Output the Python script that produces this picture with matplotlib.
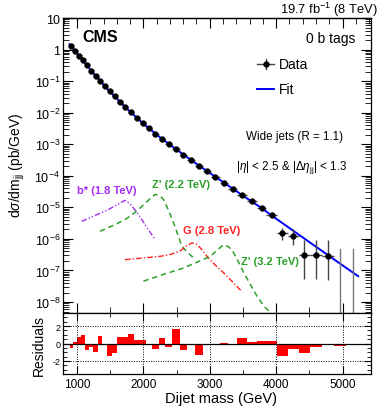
import numpy as np
import matplotlib
matplotlib.use("Agg")
import matplotlib.pyplot as plt
from matplotlib.ticker import MultipleLocator, LogLocator, NullFormatter

plt.rcParams['font.family'] = ['Liberation Sans', 'DejaVu Sans']
plt.rcParams['mathtext.fontset'] = 'custom'
plt.rcParams['mathtext.rm'] = 'Liberation Sans'
plt.rcParams['mathtext.it'] = 'Liberation Sans:italic'
plt.rcParams['mathtext.bf'] = 'Liberation Sans:bold'

# ---------------- data ----------------
bin_edges = [890, 944, 1000, 1058, 1118, 1181, 1246, 1313, 1383, 1455, 1530, 1607,
             1687, 1770, 1856, 1945, 2037, 2132, 2231, 2332, 2438, 2546, 2659, 2775,
             2895, 3019, 3147, 3279, 3416, 3558, 3704, 3854, 4010, 4171, 4337, 4509,
             4686, 4869, 5058, 5253]

# measured cross sections (pb/GeV), bins with events
data_xs = [1.26, 0.90, 0.64, 0.452, 0.313, 0.215, 0.148, 0.103, 0.0705, 0.0474,
           0.0326, 0.0223, 0.0150, 0.0102, 0.00692, 0.00465, 0.00319, 0.00217,
           0.00148, 0.00102, 7.15e-4, 4.65e-4, 3.16e-4, 2.05e-4, 1.42e-4, 9.33e-5,
           6.07e-5, 3.88e-5, 2.55e-5, 1.56e-5, 9.8e-6, 5.8e-6,
           1.5e-6, 1.2e-6, 3.0e-7, 3.0e-7, 2.9e-7]
data_err_lo = [0.003, 0.002, 0.002, 0.0015, 0.001, 0.0008, 0.0006, 0.0005, 0.0004, 0.0003,
               0.0002, 0.00015, 0.00012, 9e-5, 7e-5, 5e-5, 4e-5, 3e-5,
               2.5e-5, 2e-5, 1.6e-5, 1.2e-5, 9e-6, 7e-6, 5.5e-6, 4e-6,
               3e-6, 2.2e-6, 1.6e-6, 1.2e-6, 9e-7, 7e-7,
               5.5e-7, 5.4e-7, 2.48e-7, 2.48e-7, 2.4e-7]
data_err_hi = [0.003, 0.002, 0.002, 0.0015, 0.001, 0.0008, 0.0006, 0.0005, 0.0004, 0.0003,
               0.0002, 0.00015, 0.00012, 9e-5, 7e-5, 5e-5, 4e-5, 3e-5,
               2.5e-5, 2e-5, 1.6e-5, 1.2e-5, 9e-6, 7e-6, 5.5e-6, 4e-6,
               3e-6, 2.2e-6, 1.6e-6, 1.2e-6, 9e-7, 7e-7,
               7e-7, 9e-7, 6.5e-7, 6.5e-7, 6.6e-7]
# empty bins: upper limits only
empty_bins_lo = [4869, 5058]
empty_bins_hi = [5058, 5253]
empty_upper = [4.9e-7, 4.9e-7]

# fit curve
fit_mass = [890, 917, 1000, 1250, 1500, 1750, 2000, 2250, 2500, 2750, 3000,
            3250, 3500, 3750, 4000, 4250, 4500, 4750, 5000, 5234]
fit_xs = [1.48, 1.26, 0.76, 0.174, 0.0457, 0.0135, 4.47e-3, 1.66e-3, 6.76e-4,
          2.82e-4, 1.23e-4, 5.37e-5, 2.34e-5, 1.05e-5, 4.37e-6, 1.86e-6,
          7.94e-7, 3.39e-7, 1.45e-7, 6.6e-8]

residuals = [-0.5, 0.2, 0.8, 0.95, -0.75, -0.45, -0.95, 0.9, 0.0, -1.4, -1.1, 0.8,
             0.75, 1.05, 0.35, 0.45, -0.2, -0.6, 0.6, -0.45, 1.65, -0.75, 0.0, -1.35,
             -0.05, 0.0, 0.08, -0.2, 0.65, 0.15, 0.3, 0.25, -1.4, -0.6, -1.1, -0.45,
             0.0, -0.3, -0.15]

# signal shapes
bstar_m = [1071, 1270, 1473, 1600, 1725, 1801, 1900, 1977, 2080, 2178]
bstar_xs = [3.6e-6, 5.5e-6, 8.5e-6, 1.2e-5, 1.67e-5, 1.3e-5, 7.0e-6, 4.1e-6, 1.9e-6, 9.5e-7]
zp22_m = [1347, 1550, 1725, 1860, 1977, 2090, 2180, 2250, 2305, 2380, 2456, 2582, 2680, 2757]
zp22_xs = [1.75e-6, 2.7e-6, 4.1e-6, 6.5e-6, 1.07e-5, 1.8e-5, 2.6e-5, 2.3e-5, 1.76e-5,
           8.0e-6, 3.2e-6, 5.8e-7, 3.5e-7, 2.5e-7]
g28_m = [1725, 2000, 2250, 2405, 2556, 2650, 2732, 2800, 2858, 2958, 3080, 3210, 3350, 3488]
g28_xs = [2.2e-7, 2.5e-7, 2.8e-7, 3.2e-7, 4.2e-7, 6.0e-7, 7.5e-7, 6.8e-7, 5.2e-7,
          2.8e-7, 1.5e-7, 8.4e-8, 4.2e-8, 2.1e-8]
zp32_m = [2002, 2300, 2606, 2850, 3009, 3120, 3210, 3290, 3361, 3430, 3512, 3714, 3815, 3915]
zp32_xs = [4.6e-8, 7.5e-8, 1.2e-7, 2.0e-7, 2.8e-7, 4.6e-7, 6.6e-7, 5.5e-7, 3.6e-7,
           1.9e-7, 8.4e-8, 1.5e-8, 7.4e-9, 4.6e-9]

y_tick_vals = [1e-8, 1e-7, 1e-6, 1e-5, 1e-4, 1e-3, 1e-2, 1e-1, 1, 10]
y_tick_labels = ['$10^{-8}$', '$10^{-7}$', '$10^{-6}$', '$10^{-5}$', '$10^{-4}$',
                 '$10^{-3}$', '$10^{-2}$', '$10^{-1}$', '1', '10']
x_tick_vals = [1000, 2000, 3000, 4000, 5000]
x_tick_labels = ['1000', '2000', '3000', '4000', '5000']

# ---------------- figure ----------------
W, H = 381, 414
fig = plt.figure(figsize=(W / 100, H / 100), dpi=100)

def fx(px):
    return px / W

def fy(py):
    return 1 - py / H

L, R = 63, 370.5
T, M, B = 19, 314, 375
ax = fig.add_axes([fx(L), fy(M), fx(R) - fx(L), fy(T) - fy(M)])
axr = fig.add_axes([fx(L), fy(B), fx(R) - fx(L), fy(M) - fy(B)], sharex=ax)

XMIN, XMAX = 790, 5420
ax.set_xlim(XMIN, XMAX)
ax.set_yscale('log')
ax.set_ylim(4.5e-9, 10)

edges = np.array(bin_edges, dtype=float)
lo = edges[:-1]
hi = edges[1:]
ctr = 0.5 * (lo + hi)
n = len(data_xs)
xc = ctr[:n]
xerr = np.vstack([xc - lo[:n], hi[:n] - xc])

GREEN = '#2aa02a'
PURPLE = '#a52cf0'
RED = '#ff2020'
MS = 4.2

# fit
ax.plot(fit_mass, fit_xs, color='#0000ff', lw=1.4, zorder=3)

# data
ax.errorbar(xc, data_xs, xerr=xerr, yerr=[data_err_lo, data_err_hi], fmt='o',
            color='black', ecolor='#444444', elinewidth=1.0, markersize=MS,
            markeredgewidth=0.3, capsize=0, zorder=4)
for a, b_, u in zip(empty_bins_lo, empty_bins_hi, empty_upper):
    ax.plot([0.5 * (a + b_)] * 2, [1e-10, u], color='#777777', lw=1.0, zorder=4)

# signals
ax.plot(bstar_m, bstar_xs, color=PURPLE, lw=1.0, dashes=[4, 1.5, 1, 1.5, 1, 1.5], zorder=2)
ax.plot(zp22_m, zp22_xs, color=GREEN, lw=1.1, dashes=[3.5, 2.5], zorder=2)
ax.plot(g28_m, g28_xs, color=RED, lw=1.0, dashes=[4, 1.5, 1, 1.5], zorder=2)
ax.plot(zp32_m, zp32_xs, color=GREEN, lw=1.1, dashes=[3.5, 2.5], zorder=2)

# axis ticks main
ax.set_yticks(y_tick_vals)
ax.set_yticklabels(y_tick_labels, fontsize=9)
ax.yaxis.set_minor_locator(LogLocator(base=10, subs=np.arange(2, 10), numticks=20))
ax.yaxis.set_minor_formatter(NullFormatter())
ax.set_xticks(x_tick_vals)
ax.xaxis.set_minor_locator(MultipleLocator(500))
ax.tick_params(axis='both', which='both', direction='in', top=False, right=True)
ax.tick_params(axis='y', which='major', length=7, width=0.8, pad=2)
ax.tick_params(axis='y', which='minor', length=4, width=0.6)
ax.tick_params(axis='x', which='major', length=7, width=0.8)
ax.tick_params(axis='x', which='minor', length=4, width=0.6)
ax.tick_params(axis='x', labelbottom=False)
for s in ax.spines.values():
    s.set_linewidth(0.9)

# top axis ticks (finer divisions)
axt = ax.secondary_xaxis('top')
axt.set_xticks(x_tick_vals)
axt.xaxis.set_minor_locator(MultipleLocator(200))
axt.tick_params(axis='x', which='both', direction='in', labeltop=False)
axt.tick_params(axis='x', which='major', length=7, width=0.8)
axt.tick_params(axis='x', which='minor', length=4, width=0.6)
axt.spines['top'].set_linewidth(0.9)

fig.text(fx(17), fy(165), 'd$\\sigma$/dm$_{\\rm jj}$ (pb/GeV)', rotation=90,
         ha='center', va='center', fontsize=10)

# texts
fig.text(fx(378), fy(10), '19.7 fb$^{-1}$ (8 TeV)', ha='right', va='center', fontsize=9.3)
fig.text(fx(82), fy(38), 'CMS', ha='left', va='center', fontsize=11.5, fontweight='bold')
fig.text(fx(355), fy(39.5), '0 b tags', ha='right', va='center', fontsize=10)
fig.text(fx(294), fy(137), 'Wide jets (R = 1.1)', ha='center', va='center', fontsize=8.4)
fig.text(fx(292), fy(168), '|$\\eta$| < 2.5 & |$\\Delta\\eta_{\\rm jj}$| < 1.3',
         ha='center', va='center', fontsize=8.4)
fig.text(fx(77), fy(191), 'b* (1.8 TeV)', ha='left', va='center', fontsize=8,
         fontweight='bold', color=PURPLE)
fig.text(fx(152), fy(185), "Z' (2.2 TeV)", ha='left', va='center', fontsize=8,
         fontweight='bold', color=GREEN)
fig.text(fx(183), fy(231), 'G (2.8 TeV)', ha='left', va='center', fontsize=8,
         fontweight='bold', color=RED)
fig.text(fx(241), fy(262), "Z' (3.2 TeV)", ha='left', va='center', fontsize=8,
         fontweight='bold', color=GREEN)

# legend (manual)
def ax_x(px):
    return (px - L) / (R - L)

def ax_y(py):
    return (M - py) / (M - T)

ax.plot([ax_x(257), ax_x(274)], [ax_y(65), ax_y(65)], color='#444444', lw=1.0, transform=ax.transAxes)
ax.plot([ax_x(265.5)] * 2, [ax_y(60), ax_y(70)], color='#444444', lw=1.0, transform=ax.transAxes)
ax.plot([ax_x(265.5)], [ax_y(65)], 'o', color='black', markersize=MS, markeredgewidth=0.3,
        transform=ax.transAxes)
ax.text(ax_x(279), ax_y(65), 'Data', transform=ax.transAxes, ha='left', va='center', fontsize=10)
ax.plot([ax_x(257), ax_x(274)], [ax_y(90), ax_y(90)], color='#0000ff', lw=1.4, transform=ax.transAxes)
ax.text(ax_x(279), ax_y(90), 'Fit', transform=ax.transAxes, ha='left', va='center', fontsize=10)

# residual panel
axr.stairs(residuals, edges, baseline=0, fill=True, color='#ff0000', lw=0)
axr.axhline(0, color='black', lw=0.9)
for yv in (2, -2):
    axr.axhline(yv, color='black', lw=0.7, ls=(0, (1, 1.5)))
for xv in x_tick_vals:
    axr.axvline(xv, color='black', lw=0.7, ls=(0, (1, 1.5)))
axr.set_ylim(-3.5, 3.5)
axr.set_yticks([-2, 0, 2])
axr.set_yticklabels(['-2', '0', '2'], fontsize=6.5)
axr.yaxis.set_minor_locator(MultipleLocator(0.5))
axr.set_xticks(x_tick_vals)
axr.set_xticklabels(x_tick_labels, fontsize=8.5)
axr.xaxis.set_minor_locator(MultipleLocator(500))
axr.tick_params(axis='both', which='both', direction='in', top=True, right=True)
axr.tick_params(axis='x', which='major', length=6, width=0.8, pad=3)
axr.tick_params(axis='x', which='minor', length=3, width=0.6)
axr.tick_params(axis='y', which='major', length=5, width=0.8, pad=2)
axr.tick_params(axis='y', which='minor', length=3, width=0.6)
for s in axr.spines.values():
    s.set_linewidth(0.9)
fig.text(fx(39), fy(346), 'Residuals', rotation=90, ha='center', va='center', fontsize=10)
fig.text(fx(277), fy(399), 'Dijet mass (GeV)', ha='right', va='center', fontsize=10.5)
axr.set_xlim(XMIN, XMAX)

fig.savefig('out.png', dpi=100)
